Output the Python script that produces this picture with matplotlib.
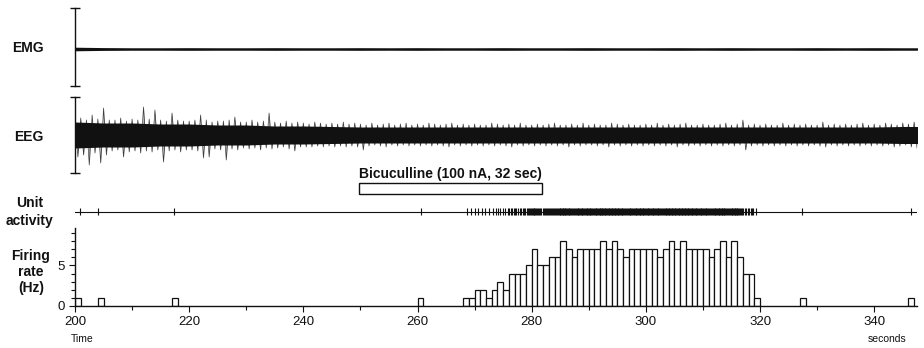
import numpy as np
import matplotlib.pyplot as plt
from matplotlib.patches import Rectangle

plt.rcParams['font.family'] = ['Liberation Sans', 'DejaVu Sans']

# unit spike times (s)
spike_times = [
    200.9, 204.05, 217.4, 260.6,
    268.7, 269.4, 270.1, 270.6, 271.3, 271.8, 272.5, 273.2, 273.7,
    274.1, 274.5, 274.9, 275.3, 275.8,
    276.1, 276.4, 276.6, 276.9, 277.1, 277.3, 277.6, 277.9,
    278.2, 278.4, 278.7, 278.9, 279.1, 279.3, 279.5, 279.7, 279.9,
    280.05, 280.2, 280.33, 280.47, 280.6, 280.76, 280.9,
    281.1, 281.3, 281.5, 281.72, 281.9,
    282.08, 282.3, 282.52, 282.7, 282.88,
    283.04, 283.2, 283.37, 283.55, 283.73, 283.9,
    284.07, 284.24, 284.4, 284.57, 284.74, 284.92,
    285.03, 285.16, 285.28, 285.41, 285.53, 285.66, 285.78, 285.91,
    286.05, 286.19, 286.33, 286.47, 286.6, 286.75, 286.89,
    287.06, 287.23, 287.39, 287.56, 287.72, 287.9,
    288.03, 288.17, 288.31, 288.46, 288.6, 288.74, 288.88,
    289.06, 289.2, 289.34, 289.48, 289.62, 289.77, 289.91,
    290.02, 290.16, 290.3, 290.44, 290.58, 290.73, 290.87,
    291.05, 291.19, 291.33, 291.47, 291.61, 291.76, 291.9,
    292.02, 292.14, 292.27, 292.39, 292.52, 292.64, 292.77, 292.89,
    293.04, 293.18, 293.32, 293.46, 293.6, 293.74, 293.88,
    294.02, 294.15, 294.27, 294.4, 294.52, 294.65, 294.77, 294.9,
    295.05, 295.19, 295.33, 295.47, 295.61, 295.75, 295.89,
    296.06, 296.23, 296.39, 296.56, 296.72, 296.89,
    297.03, 297.17, 297.31, 297.45, 297.59, 297.73, 297.87,
    298.05, 298.19, 298.33, 298.47, 298.61, 298.75, 298.9,
    299.02, 299.16, 299.3, 299.44, 299.58, 299.72, 299.86,
    300.04, 300.18, 300.32, 300.46, 300.6, 300.74, 300.88,
    301.06, 301.2, 301.34, 301.48, 301.62, 301.76, 301.9,
    302.05, 302.21, 302.38, 302.54, 302.71, 302.88,
    303.03, 303.17, 303.31, 303.45, 303.59, 303.73, 303.87,
    304.02, 304.14, 304.27, 304.39, 304.52, 304.64, 304.77, 304.89,
    305.04, 305.18, 305.32, 305.46, 305.6, 305.74, 305.88,
    306.03, 306.15, 306.28, 306.4, 306.53, 306.65, 306.78, 306.9,
    307.05, 307.19, 307.33, 307.47, 307.61, 307.75, 307.89,
    308.02, 308.16, 308.3, 308.44, 308.58, 308.72, 308.86,
    309.04, 309.18, 309.32, 309.46, 309.6, 309.74, 309.88,
    310.06, 310.2, 310.34, 310.48, 310.62, 310.76, 310.9,
    311.04, 311.21, 311.37, 311.54, 311.7, 311.87,
    312.03, 312.17, 312.31, 312.45, 312.59, 312.73, 312.87,
    313.02, 313.14, 313.27, 313.39, 313.52, 313.64, 313.77, 313.89,
    314.06, 314.22, 314.39, 314.55, 314.72, 314.88,
    315.03, 315.15, 315.28, 315.4, 315.53, 315.65, 315.78, 315.9,
    316.05, 316.22, 316.38, 316.55, 316.71, 316.88,
    317.1, 317.35, 317.6, 317.85,
    318.1, 318.35, 318.6, 318.85,
    319.3, 327.4, 346.5,
]

bicuculline_on = 249.8
bicuculline_off = 281.8
bicuculline_label = 'Bicuculline (100 nA, 32 sec)'

# EEG positive / negative peaks for each second, 200..347 s
eeg_hi = [
    18, 17, 15, 20, 16, 27, 15, 15, 17, 14,
    16, 15, 28, 16, 25, 15, 14, 22, 15, 14,
    14, 15, 20, 15, 13, 14, 14, 15, 18, 13,
    13, 15, 13, 14, 22, 13, 12, 14, 12, 13,
    12, 11, 13, 12, 11, 12, 11, 13, 11, 12,
    11, 10, 12, 10, 11, 12, 10, 11, 12, 10,
    11, 10, 12, 11, 10, 11, 12, 10, 11, 10,
    11, 10, 10, 12, 11, 10, 11, 10, 12, 10,
    10, 11, 10, 11, 12, 10, 10, 11, 10, 12,
    10, 11, 10, 10, 12, 11, 10, 11, 10, 10,
    11, 10, 12, 10, 11, 10, 11, 12, 10, 10,
    11, 10, 10, 11, 12, 10, 11, 15, 10, 11,
    10, 11, 10, 10, 12, 10, 11, 10, 11, 10,
    10, 13, 10, 11, 10, 11, 10, 11, 12, 10,
    11, 10, 12, 11, 10, 12, 11, 13,
]
eeg_lo = [
    22, 20, 30, 18, 28, 20, 16, 15, 22, 17,
    16, 18, 16, 17, 15, 27, 16, 15, 17, 15,
    15, 16, 23, 22, 14, 15, 25, 14, 15, 13,
    14, 13, 15, 13, 14, 13, 12, 14, 16, 12,
    12, 12, 11, 12, 11, 12, 11, 12, 11, 12,
    15, 11, 10, 11, 12, 10, 11, 10, 11, 10,
    11, 10, 11, 10, 11, 12, 10, 11, 10, 11,
    10, 11, 10, 11, 10, 11, 12, 10, 11, 10,
    11, 10, 11, 10, 11, 10, 12, 10, 11, 10,
    10, 11, 10, 12, 10, 11, 10, 11, 10, 11,
    10, 11, 10, 11, 10, 12, 10, 11, 10, 11,
    10, 11, 10, 11, 10, 11, 10, 15, 11, 10,
    11, 10, 11, 10, 11, 10, 11, 10, 11, 10,
    11, 12, 10, 11, 10, 11, 10, 11, 10, 11,
    10, 11, 10, 12, 11, 10, 12, 13,
]
# solid core half-width of the EEG band, every 5 s from 200 to 350
eeg_core = [13, 12, 12, 11, 11, 10, 10, 9, 9, 8.5,
            8, 8, 8, 8, 8, 8, 8, 8, 8, 8,
            8, 8, 8, 8, 8, 8, 8, 8, 8, 8.5, 8.5]
# EMG half-width every 5 s from 200 to 350
emg_amp = [1.8, 1.4, 1.2, 1.2, 1.3, 1.2, 1.2, 1.3, 1.2, 1.2,
           1.3, 1.2, 1.3, 1.2, 1.2, 1.3, 1.2, 1.2, 1.3, 1.2,
           1.2, 1.3, 1.2, 1.3, 1.2, 1.2, 1.3, 1.2, 1.3, 1.2, 1.2]

x_major = [200, 220, 240, 260, 280, 300, 320, 340]
x_minor = [210, 230, 250, 270, 290, 310, 330]

W, H = 924, 348
XMIN, XMAX = 200, 347.5
INK = '#111111'

fig = plt.figure(figsize=(W / 100, H / 100), dpi=100)


def px_axes(left, top, right, bottom):
    return fig.add_axes([left / W, 1 - bottom / H, (right - left) / W, (bottom - top) / H])


def scale_bar(ax):
    # left spine with short caps at both ends
    for side in ['top', 'right', 'bottom']:
        ax.spines[side].set_visible(False)
    ax.spines['left'].set_color(INK)
    ax.spines['left'].set_linewidth(1.0)
    lo, hi = ax.get_ylim()
    ax.set_yticks([lo, hi])
    ax.tick_params(axis='y', direction='inout', length=7, width=1.0, color=INK,
                   labelleft=False)
    ax.set_xticks([])
    ax.set_xlim(XMIN, XMAX)


slow_t = np.arange(200, 351, 5)

# EMG
ax_emg = px_axes(75, 8, 917, 86)
ax_emg.set_ylim(-37, 41)
emg = np.array(emg_amp)
ax_emg.fill_between(slow_t, -emg, emg, color=INK, lw=0)
ax_emg.plot([XMIN, XMAX], [0, 0], color=INK, lw=0.9)
scale_bar(ax_emg)

# EEG: solid core plus peak-to-peak zigzag
ax_eeg = px_axes(75, 97, 917, 173)
ax_eeg.set_ylim(-38, 38)
sec = np.arange(200, 200 + len(eeg_hi))
zx = np.column_stack([sec, sec + 0.5]).ravel()
zy = np.column_stack([eeg_hi, -np.array(eeg_lo)]).ravel()
core = np.array(eeg_core)
ax_eeg.fill_between(slow_t, -core, core, color=INK, lw=0)
ax_eeg.fill_between(zx, zy, 0, color=INK, lw=0, alpha=0.35)
ax_eeg.plot(zx, zy, color=INK, lw=0.5, alpha=0.8)
scale_bar(ax_eeg)

# drug application bar and spike raster
ax_ras = px_axes(75, 165, 917, 220)
ax_ras.set_xlim(XMIN, XMAX)
ax_ras.set_ylim(220, 165)
ax_ras.axis('off')
ax_ras.add_patch(Rectangle((bicuculline_on, 183), bicuculline_off - bicuculline_on, 11,
                           facecolor='white', edgecolor=INK, lw=1.0))
ax_ras.text((bicuculline_on + bicuculline_off) / 2, 174, bicuculline_label,
            ha='center', va='center', fontsize=10, fontweight='bold', color=INK)
ax_ras.axhline(211.7, color=INK, lw=0.8)
ax_ras.eventplot(spike_times, lineoffsets=211.7, linelengths=7, linewidths=0.8, colors=INK)

# firing rate histogram, 1 s bins
ax_rate = px_axes(75, 228, 917, 306)
counts, edges = np.histogram(spike_times, bins=np.arange(200, 349))
rate = counts / 1.0
mask = rate > 0
ax_rate.bar(edges[:-1][mask], rate[mask], width=1.0, align='edge',
            facecolor='white', edgecolor=INK, linewidth=0.9)
ax_rate.set_xlim(XMIN, XMAX)
ax_rate.set_ylim(0, 9.6)
for side in ['top', 'right']:
    ax_rate.spines[side].set_visible(False)
for side in ['left', 'bottom']:
    ax_rate.spines[side].set_color(INK)
    ax_rate.spines[side].set_linewidth(1.0)
ax_rate.set_xticks(x_major)
ax_rate.set_xticks(x_minor, minor=True)
ax_rate.set_yticks([0, 5])
ax_rate.set_yticks([1, 2, 3, 4, 6, 7, 8, 9], minor=True)
ax_rate.tick_params(which='major', direction='out', length=4, width=0.8, color=INK,
                    labelsize=9.5, labelcolor=INK, pad=3)
ax_rate.tick_params(which='minor', direction='out', length=3, width=0.8, color=INK)


# row labels
def label(x, y, s, **kw):
    fig.text(x / W, 1 - y / H, s, ha='center', va='center', color=INK, **kw)


label(28, 48, 'EMG', fontsize=10, fontweight='bold')
label(29, 137, 'EEG', fontsize=10, fontweight='bold')
label(30, 212, 'Unit\nactivity', fontsize=10, fontweight='bold', linespacing=1.3)
label(31, 272, 'Firing\nrate\n(Hz)', fontsize=10, fontweight='bold', linespacing=1.2)
label(82, 339, 'Time', fontsize=7.5)
label(887, 339, 'seconds', fontsize=7.5)

fig.savefig('out.png', dpi=100)
